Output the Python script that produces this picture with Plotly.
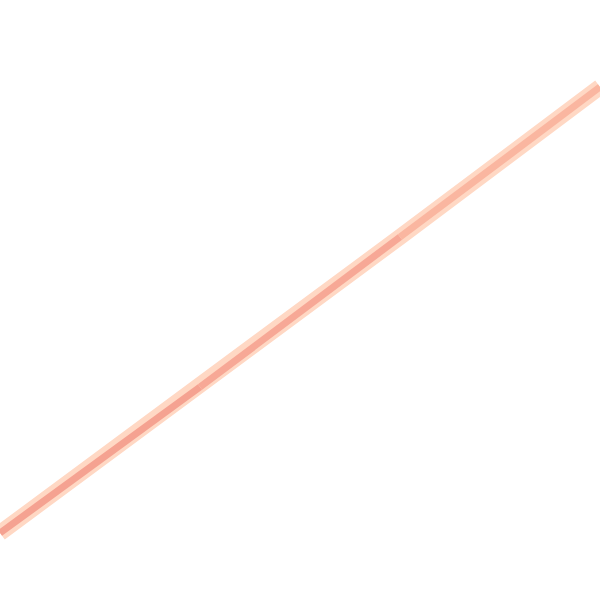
import plotly.graph_objects as go

x_vals = [0, 200, 400, 600]
y_vals = [67, 213, 363, 513]
core_colors = ["rgb(245,162,145)", "rgb(247,168,150)", "rgb(250,182,160)"]

fig = go.Figure()
fig.add_trace(go.Scatter(x=x_vals, y=y_vals, mode="lines",
                         line=dict(color="rgb(255,216,196)", width=16),
                         hoverinfo="skip", showlegend=False))
for i, c in enumerate(core_colors):
    fig.add_trace(go.Scatter(x=x_vals[i:i + 2], y=y_vals[i:i + 2], mode="lines",
                             line=dict(color=c, width=7),
                             showlegend=False))
fig.update_layout(width=600, height=600, margin=dict(l=0, r=0, t=0, b=0),
                  paper_bgcolor="white", plot_bgcolor="white",
                  xaxis=dict(range=[0, 600], visible=False, fixedrange=True),
                  yaxis=dict(range=[0, 600], visible=False, fixedrange=True))
fig.write_html("out.html", config={"displayModeBar": False},
               post_script="document.body.style.margin='0';")
